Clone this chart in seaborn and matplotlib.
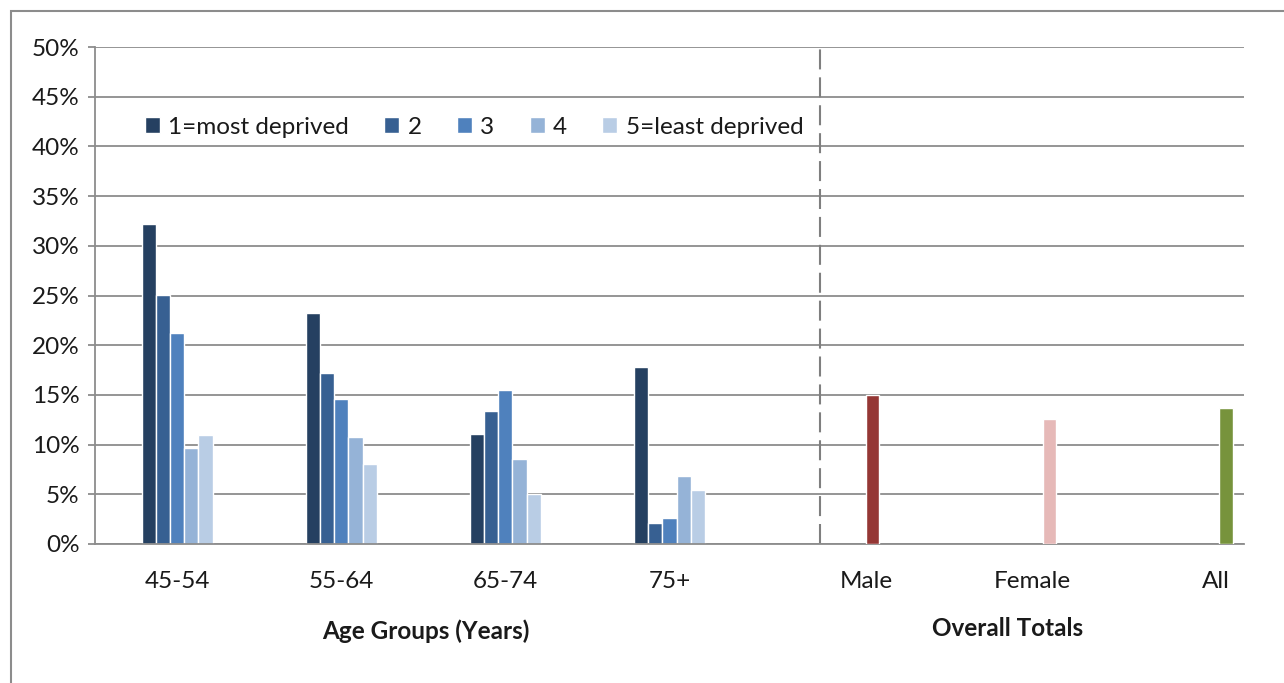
import numpy as np
import pandas as pd
import matplotlib.pyplot as plt
from matplotlib.patches import Rectangle
from matplotlib.ticker import PercentFormatter, MultipleLocator
from matplotlib.transforms import ScaledTranslation
import seaborn as sns

# data (percent)
age_groups = ["45-54", "55-64", "65-74", "75+"]
quintiles = ["1=most deprived", "2", "3", "4", "5=least deprived"]
q1 = [32.2, 23.2, 11.1, 17.8]
q2 = [25.1, 17.2, 13.4, 2.1]
q3 = [21.2, 14.6, 15.5, 2.6]
q4 = [9.7, 10.8, 8.6, 6.8]
q5 = [11.0, 8.0, 5.0, 5.4]

totals = ["Male", "Female", "All"]
total_vals = [15.0, 12.6, 13.65]

blues = ["#254061", "#376092", "#4f81bd", "#95b3d7", "#b9cde5"]
total_colors = ["#953735", "#e6b9b8", "#77933c"]
grey = "#8c8c8c"
txt = "#1a1a1a"


def main():
    sns.set_theme(style="white")
    plt.rcParams["font.family"] = ["Lato", "DejaVu Sans"]
    fs = 17.5

    rows = []
    for q, vals in zip(quintiles, [q1, q2, q3, q4, q5]):
        for g, v in zip(age_groups, vals):
            rows.append({"group": g, "quintile": q, "value": v})
    df_age = pd.DataFrame(rows)
    df_tot = pd.DataFrame({"group": totals, "value": total_vals})

    fig = plt.figure(figsize=(12.84, 6.83), dpi=100)
    ax = fig.add_axes([95 / 1284, 139 / 683, 1149 / 1284, 497 / 683])

    sns.barplot(data=df_age, x="group", y="value", hue="quintile",
                order=age_groups, hue_order=quintiles, palette=blues,
                width=0.433, saturation=1, ax=ax)
    ax.set_xlim(-0.5, 6.5)

    # totals on their own categorical scale
    ax2 = ax.twiny()
    sns.barplot(data=df_tot, x="group", y="value", hue="group",
                order=totals, palette=total_colors, width=0.079,
                saturation=1, legend=False, ax=ax2)
    ax2.set_xlim(-4.393, 2.099)

    for a in (ax, ax2):
        a.set_xlabel("")
        a.set_ylabel("")
    ax.set_ylim(0, 50)
    ax.yaxis.set_major_locator(MultipleLocator(5))
    ax.yaxis.set_major_formatter(PercentFormatter(decimals=0))

    ax.yaxis.grid(True, color=grey, lw=1.3)
    ax.set_axisbelow(True)
    for s in ["top", "right"]:
        ax.spines[s].set_visible(False)
    for s in ["left", "bottom"]:
        ax.spines[s].set_color(grey)
        ax.spines[s].set_linewidth(1.3)
    for s in ax2.spines.values():
        s.set_visible(False)

    ax.tick_params(axis="y", left=True, length=5, width=1.3, color=grey,
                   pad=6, labelsize=fs, labelcolor=txt)
    ax.tick_params(axis="x", bottom=False, length=0, pad=19.5,
                   labelsize=fs, labelcolor=txt)
    ax2.xaxis.set_ticks_position("bottom")
    ax2.tick_params(axis="x", bottom=False, top=False, length=0, pad=19.5,
                    labelsize=fs, labelcolor=txt)
    # total labels sit a little left of their bars in the original
    for lbl, dx in zip(ax2.get_xticklabels(), [-6, -17, -11]):
        lbl.set_transform(lbl.get_transform()
                          + ScaledTranslation(dx / 100, 0, fig.dpi_scale_trans))

    # separator between age groups and totals
    ax.axvline(3.915, color="#7f7f7f", lw=1.5, linestyle=(0, (9.6, 3.8)))

    ax.legend(loc="center left", bbox_to_anchor=(0.0435, 0.839), ncol=5,
              frameon=False, fontsize=fs, handlelength=0.62, handleheight=0.62,
              handletextpad=0.33, columnspacing=1.46, borderpad=0,
              borderaxespad=0, labelcolor=txt)

    fig.text(426 / 1284, 1 - 631 / 683, "Age Groups (Years)", ha="center",
             va="center", fontsize=fs, fontweight="bold", color=txt)
    fig.text(1008 / 1284, 1 - 629 / 683, "Overall Totals", ha="center",
             va="center", fontsize=fs, fontweight="bold", color=txt)

    # chart area border (cropped on the right and bottom)
    fig.patches.append(Rectangle((11 / 1284, -0.1), 1.2, 1.1 - 11 / 683,
                                 transform=fig.transFigure, fill=False,
                                 edgecolor=grey, lw=1.5))

    fig.savefig("out.png", dpi=100)


if __name__ == "__main__":
    main()
